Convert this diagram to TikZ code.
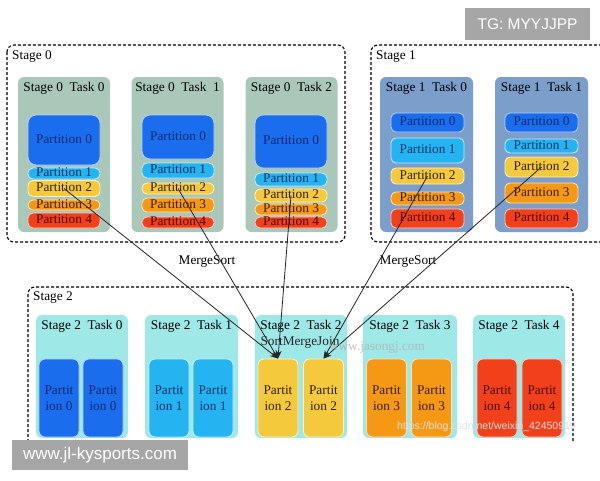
\documentclass[tikz,border=0pt]{standalone}
\usepackage{fontspec}
\setmainfont{Liberation Serif}
\newfontfamily\wmfont{Liberation Sans}
\usetikzlibrary{arrows.meta}
\definecolor{cP0}{HTML}{1A6EEE}
\definecolor{cP1}{HTML}{25B4F2}
\definecolor{cP2}{HTML}{F5C93C}
\definecolor{cP3}{HTML}{F59914}
\definecolor{cP4}{HTML}{F2401A}
\definecolor{tP0}{HTML}{0E2A6E}
\definecolor{tP1}{HTML}{0E3266}
\definecolor{tP2}{HTML}{2E2208}
\definecolor{tP3}{HTML}{3A1E00}
\definecolor{tP4}{HTML}{4A0E04}
\definecolor{sZero}{HTML}{A9C8BA}
\definecolor{sOne}{HTML}{7C9ECB}
\definecolor{sTwo}{HTML}{9EE8E8}
\definecolor{wmgray}{HTML}{A6A6A6}
\tikzset{
  fnt/.style={font=\fontsize{13.3}{16}\selectfont},
  stagebox/.style={draw=black, line width=1.1pt, dash pattern=on 3pt off 2pt, rounded corners=7pt},
  stagelabel/.style={fnt, anchor=west, inner sep=0pt},
  taskbox/.style={rounded corners=6pt, inner sep=0pt},
  tasktitle/.style={fnt, inner sep=0pt},
  part/.style={fnt, line width=0.9pt, rounded corners=5pt, inner sep=0pt, text height=0.66em, text depth=0pt, minimum width=72pt},
  vpart/.style={fnt, line width=0.9pt, rounded corners=6pt, inner sep=0pt, minimum width=40pt, minimum height=78pt, align=center},
  pz/.style={fill=cP0, draw=cP0!35!white, text=tP0},
  pa/.style={fill=cP1, draw=cP1!30!white, text=tP1},
  pb/.style={fill=cP2, draw=cP2!30!white, text=tP2},
  pc/.style={fill=cP3, draw=cP3!30!white, text=tP3},
  pd/.style={fill=cP4, draw=cP4!30!white, text=tP4},
  flow/.style={draw=black!85, line width=0.8pt, -{Stealth[length=8pt,width=6pt]}},
  plain/.style={fnt, inner sep=0pt}
}
\begin{document}
\begin{tikzpicture}[x=1pt,y=-1pt]
\useasboundingbox (0,0) rectangle (600,480);
\fill[white] (0,0) rectangle (600,480);

% ---------- stage frames ----------
\draw[stagebox] (7,45) rectangle (345,242);
\draw[stagebox] (602,45) -- (371,45) -- (371,242) -- (602,242);
\draw[stagebox] (28,442) -- (28,287) -- (573,287) -- (573,442);
\node[stagelabel] (l0) at (12,57) {Stage 0};
\node[stagelabel] (l1) at (376,57) {Stage 1};
\node[stagelabel] (l2) at (33,298) {Stage 2};

% ---------- stage 0 tasks ----------
\node[taskbox, fill=sZero, minimum width=92pt, minimum height=155pt] (t00) at (64,154.5) {};
\node[taskbox, fill=sZero, minimum width=92pt, minimum height=155pt] (t01) at (177.5,154.5) {};
\node[taskbox, fill=sZero, minimum width=92pt, minimum height=155pt] (t02) at (291.5,154.5) {};
\node[tasktitle] (h00) at (64,88) {Stage 0\ \ Task 0};
\node[tasktitle] (h01) at (177.5,88) {Stage 0\ \ Task\ \ 1};
\node[tasktitle] (h02) at (291.5,88) {Stage 0\ \ Task 2};

\node[part, pz, minimum height=50pt, rounded corners=8pt] (a0) at (64,140) {Partition 0};
\node[part, pa, minimum height=11pt] (a1) at (64,173.5) {Partition 1};
\node[part, pb, minimum height=16pt] (a2) at (64,188.5) {Partition 2};
\node[part, pc, minimum height=10pt] (a3) at (64,205) {Partition 3};
\node[part, pd, minimum height=15pt] (a4) at (64,220.5) {Partition 4};

\node[part, pz, minimum height=44pt, rounded corners=8pt] (b0) at (178,137) {Partition 0};
\node[part, pa, minimum height=15pt] (b1) at (178,170.5) {Partition 1};
\node[part, pb, minimum height=11pt] (b2) at (178,188.5) {Partition 2};
\node[part, pc, minimum height=14pt] (b3) at (178,205) {Partition 3};
\node[part, pd, minimum height=11pt] (b4) at (178,222.5) {Partition 4};

\node[part, pz, minimum height=53pt, rounded corners=8pt] (c0) at (291,141.5) {Partition 0};
\node[part, pa, minimum height=13pt] (c1) at (291,179.5) {Partition 1};
\node[part, pb, minimum height=13pt] (c2) at (291,195.5) {Partition 2};
\node[part, pc, minimum height=11pt] (c3) at (291,209.5) {Partition 3};
\node[part, pd, minimum height=11pt] (c4) at (291,222.5) {Partition 4};

% ---------- stage 1 tasks ----------
\node[taskbox, fill=sOne, minimum width=93pt, minimum height=155pt] (t10) at (426.5,154.5) {};
\node[taskbox, fill=sOne, minimum width=93pt, minimum height=155pt] (t11) at (541.5,154.5) {};
\node[tasktitle] (h10) at (426.5,88) {Stage 1\ \ Task 0};
\node[tasktitle] (h11) at (541.5,88) {Stage 1\ \ Task 1};

\node[part, pz, minimum height=19pt, minimum width=73pt] (d0) at (427.5,122.5) {Partition 0};
\node[part, pa, minimum height=25pt, minimum width=73pt] (d1) at (427.5,150.5) {Partition 1};
\node[part, pb, minimum height=16pt, minimum width=73pt] (d2) at (427.5,176) {Partition 2};
\node[part, pc, minimum height=13pt, minimum width=73pt] (d3) at (427.5,198.5) {Partition 3};
\node[part, pd, minimum height=19pt, minimum width=73pt] (d4) at (427.5,218.5) {Partition 4};

\node[part, pz, minimum height=19pt, minimum width=73pt] (e0) at (541.5,122.5) {Partition 0};
\node[part, pa, minimum height=14pt, minimum width=73pt] (e1) at (541.5,146) {Partition 1};
\node[part, pb, minimum height=20pt, minimum width=73pt] (e2) at (541.5,167) {Partition 2};
\node[part, pc, minimum height=20pt, minimum width=73pt] (e3) at (541.5,193) {Partition 3};
\node[part, pd, minimum height=19pt, minimum width=73pt] (e4) at (541.5,218.5) {Partition 4};

% ---------- stage 2 tasks ----------
\node[taskbox, fill=sTwo, minimum width=92pt, minimum height=123pt] (t20) at (82,376.5) {};
\node[taskbox, fill=sTwo, minimum width=93pt, minimum height=123pt] (t21) at (191.5,376.5) {};
\node[taskbox, fill=sTwo, minimum width=92pt, minimum height=123pt] (t22) at (301,376.5) {};
\node[taskbox, fill=sTwo, minimum width=94pt, minimum height=123pt] (t23) at (410,376.5) {};
\node[taskbox, fill=sTwo, minimum width=92pt, minimum height=123pt] (t24) at (519,376.5) {};
\node[tasktitle] (h20) at (82,326) {Stage 2\ \ Task 0};
\node[tasktitle] (h21) at (191.5,326) {Stage 2\ \ Task 1};
\node[tasktitle] (h22) at (301,326) {Stage 2\ \ Task 2};
\node[tasktitle] (h23) at (410,326) {Stage 2\ \ Task 3};
\node[tasktitle] (h24) at (519,326) {Stage 2\ \ Task 4};

\node[vpart, pz] (f0) at (59,398) {Partit\\ion 0};
\node[vpart, pz] (f1) at (103,398) {Partit\\ion 0};
\node[vpart, pa] (g0) at (169,398) {Partit\\ion 1};
\node[vpart, pa] (g1) at (213,398) {Partit\\ion 1};
\node[vpart, pb] (k0) at (278,398) {Partit\\ion 2};
\node[vpart, pb] (k1) at (323.5,398) {Partit\\ion 2};
\node[vpart, pc] (m0) at (386.5,398) {Partit\\ion 3};
\node[vpart, pc] (m1) at (431.5,398) {Partit\\ion 3};
\node[vpart, pd] (n0) at (497,398) {Partit\\ion 4};
\node[vpart, pd] (n1) at (542,398) {Partit\\ion 4};

% ---------- labels ----------
\node[plain] (ms0) at (207,262) {MergeSort};
\node[plain] (ms1) at (408,262) {MergeSort};
\node[plain, text=black!85] (smj) at (300,343) {SortMergeJoin};

% ---------- shuffle arrows ----------
\draw[flow] (a2.center) -- (k0.north);
\draw[flow] (b2.center) -- (k0.north);
\draw[flow] (c2.center) -- (k0.north);
\draw[flow] (d2.center) -- (k1.north);
\draw[flow] (e2.center) -- (k1.north);

% ---------- watermarks ----------
\node[plain, text=black!30, opacity=0.8] (wm1) at (377,348) {www.jasongj.com};
\node[inner sep=0pt, anchor=west, text=white!88!black, font=\wmfont\fontsize{10.5}{10.5}\selectfont] (wm2) at (397,427) {https://blog.csdn.net/weixin\_42450919};
\node[fill=wmgray, text=white, font=\wmfont\fontsize{15.5}{15.5}\selectfont, minimum width=125pt, minimum height=32pt, inner sep=0pt] (tg) at (527.5,24) {TG: MYYJJPP};
\node[fill=wmgray, text=white, font=\wmfont\fontsize{17}{17}\selectfont, minimum width=176pt, minimum height=30pt, inner sep=0pt] (site) at (100,455) {www.jl-kysports.com};
\end{tikzpicture}
\end{document}
